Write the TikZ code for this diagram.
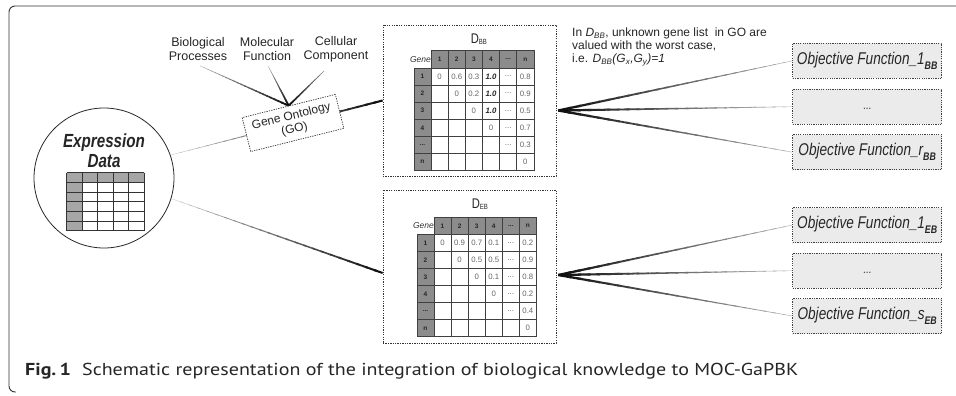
\documentclass[tikz,border=0pt]{standalone}
\usepackage{fontspec}
\usepackage{graphicx}
\setmainfont{Liberation Sans}
\newfontfamily\narrowfont{Liberation Sans}[FakeStretch=0.8]
\newfontfamily\capfont{PT Sans}
\usetikzlibrary{calc}
\pgfdeclarelayer{bg}
\pgfsetlayers{bg,main}

\newcommand\mdots{...}
\newcommand\bival[1]{{\bfseries\itshape\color{black!85}#1}}
\newcommand\objsub[1]{\raisebox{-5pt}{\fontsize{11}{11}\selectfont\bfseries #1}}

% tapered connector: from, to, start width, end width, start shade, end shade
\newcommand\taper[6]{%
  \foreach \ti in {0,...,23}{%
    \pgfmathsetmacro\tpa{\ti/24}%
    \pgfmathsetmacro\tpb{min(1,(\ti+1.3)/24)}%
    \pgfmathsetmacro\tpw{#3+(#4-#3)*(\ti+0.5)/24}%
    \pgfmathsetmacro\tpk{#5+(#6-#5)*(\ti+0.5)/24}%
    \draw[line width=\tpw pt,black!\tpk] ($(#1)!\tpa!(#2)$) -- ($(#1)!\tpb!(#2)$);
  }}

% distance matrix: prefix, x0, y0, cell size, rows of values
\newcommand\genematrix[5]{%
  \begin{scope}[shift={(#2,#3)}]
    \node[genelbl,anchor=east] (#1-gene) at (0,{0.5*#4}) {Gene};
    \foreach \hv [count=\c] in {1,2,3,4,\mdots,n}
      \node[hdr,minimum size=#4pt] (#1-h\c) at ({(\c-0.5)*#4},{0.5*#4}) {\hv};
    \foreach \rv [count=\r] in {1,2,3,4,\mdots,n}
      \node[hdr,minimum size=#4pt] (#1-r\r) at ({-0.5*#4},{(\r+0.5)*#4}) {\rv};
    \foreach \row [count=\r] in {#5} {
      \foreach \v [count=\c] in \row
        \node[cell,minimum size=#4pt] (#1-\r-\c) at ({(\c-0.5)*#4},{(\r+0.5)*#4}) {\v};
    }
  \end{scope}}

\begin{document}
\begin{tikzpicture}[x=1pt,y=-1pt,
  frameline/.style={draw=black!80,line width=0.9pt,rounded corners=6pt},
  dbox/.style={draw=black!80,line width=0.7pt,dash pattern=on 1.3pt off 1.1pt,inner sep=0pt},
  objbox/.style={draw=black!75,fill=black!8,line width=0.8pt,dash pattern=on 1.2pt off 1.1pt,
    minimum width=149pt,minimum height=35pt,inner sep=0pt,
    font=\narrowfont\fontsize{17}{17}\selectfont\itshape,text=black!85},
  lbl/.style={align=center,font=\fontsize{12.5}{14}\selectfont,text=black!85,inner sep=0pt},
  hdr/.style={draw=black!75,fill=black!45,line width=0.6pt,inner sep=0pt,
    font=\fontsize{6.5}{7}\selectfont\bfseries,text=black!85},
  cell/.style={draw=black!75,fill=white,line width=0.6pt,inner sep=0pt,
    font=\fontsize{7.8}{8}\selectfont,text=black!60},
  genelbl/.style={inner sep=0pt,font=\fontsize{8.5}{9}\selectfont\itshape,text=black!80},
  dtitle/.style={inner sep=0pt,font=\narrowfont\fontsize{14}{14}\selectfont,text=black!85},
]
\useasboundingbox (0,0) rectangle (956,396);

% outer frame
\draw[frameline] (16,392) -- (9,392) -- (9,6) -- (957,6);

% expression data
\node[circle,draw=black!85,line width=0.8pt,fill=white,minimum size=140pt,inner sep=0pt] (expr) at (104,178) {};
\node[align=center,inner sep=0pt,font=\narrowfont\fontsize{19}{20}\selectfont\bfseries\itshape,text=black!85] (exprt) at (104,151) {Expression\\Data};
\fill[black!35] (66.7,172.7) rectangle (144.3,182.4);
\fill[black!35] (66.7,172.7) rectangle (82.2,230.7);
\foreach \c in {0,...,5} \draw[black!80,line width=0.8pt] ({66.7+\c*15.52},172.7) -- ({66.7+\c*15.52},230.7);
\foreach \r in {0,...,6} \draw[black!80,line width=0.8pt] (66.7,{172.7+\r*9.67}) -- (144.3,{172.7+\r*9.67});

% gene ontology
\node[lbl] (bp) at (198,49) {Biological\\Processes};
\node[lbl] (mf) at (267,49) {Molecular\\Function};
\node[lbl] (cc) at (336,49) {Cellular\\Component};
\node[dbox,fill=white,rotate=14,minimum width=96pt,minimum height=35pt,align=center,
  font=\fontsize{12}{13.5}\selectfont,text=black!85] (go) at (293,123) {Gene Ontology\\(GO)};

% distance matrices
\node[dbox,minimum width=173pt,minimum height=151pt] (dbb) at (469.5,100.5) {};
\node[dtitle,anchor=base west] (dbbt) at (470.7,43.3) {D{\fontsize{7.5}{8}\selectfont\raisebox{-1pt}{BB}}};
\genematrix{bb}{431}{50.7}{17.15}{%
  {0,0.6,0.3,\bival{1.0},\mdots,0.8},
  {{},0,0.2,\bival{1.0},\mdots,0.9},
  {{},{},0,\bival{1.0},\mdots,0.5},
  {{},{},{},0,\mdots,0.7},
  {{},{},{},{},\mdots,0.3},
  {{},{},{},{},{},0}}

\node[dbox,minimum width=173pt,minimum height=153pt] (deb) at (469.5,266.5) {};
\node[dtitle,anchor=base west] (debt) at (471.7,208) {D{\fontsize{7.5}{8}\selectfont\raisebox{-1pt}{EB}}};
\genematrix{eb}{434}{217.3}{17.07}{%
  {0,0.9,0.7,0.1,\mdots,0.2},
  {{},0,0.5,0.5,\mdots,0.9},
  {{},{},0,0.1,\mdots,0.8},
  {{},{},{},0,\mdots,0.2},
  {{},{},{},{},\mdots,0.4},
  {{},{},{},{},{},0}}

\node[anchor=north west,align=left,inner sep=0pt,font=\fontsize{12}{13}\selectfont,text=black!85] (note) at (572,28)
  {In {\itshape D\textsubscript{BB}}, unknown gene list\ \ in GO are\\
   valued with the worst case,\\
   i.e. {\itshape D\textsubscript{BB}(G\textsubscript{x},G\textsubscript{y})=1}};

% objective functions
\node[objbox] (obb1) at (867.2,60.8) {Objective Function\_1\objsub{BB}};
\node[objbox] (obb2) at (867.2,106.7) {\raisebox{-6pt}{\upshape\fontsize{12}{12}\selectfont\mdots}};
\node[objbox] (obb3) at (867.2,152.2) {Objective Function\_r\objsub{BB}};
\node[objbox] (oeb1) at (867.2,225) {Objective Function\_1\objsub{EB}};
\node[objbox] (oeb2) at (867.2,270.7) {\raisebox{-6pt}{\upshape\fontsize{12}{12}\selectfont\mdots}};
\node[objbox] (oeb3) at (867.2,316) {Objective Function\_s\objsub{EB}};

\coordinate (bbfan) at ($(dbb.east)+(2,10)$);
\coordinate (ebfan) at ($(deb.east)+(2,8.5)$);
\coordinate (ebin) at ($(deb.west)+(0,6.5)$);

% connectors, drawn beneath the boxes
\begin{pgfonlayer}{bg}
  \fill[white] (0,0) rectangle (956,396);
  \taper{$(bp.south)+(2,5)$}{go.north}{0.3}{1.9}{30}{95}
  \taper{$(mf.south)+(1,5)$}{go.north}{0.3}{1.9}{30}{95}
  \taper{$(cc.south)+(-12,9)$}{go.north}{0.5}{1.9}{45}{95}
  \taper{expr.19}{dbb.west}{0.3}{2.1}{20}{95}
  \taper{expr.-17}{ebin}{0.3}{2.1}{20}{95}
  \taper{bbfan}{obb1.west}{2.4}{0.4}{95}{30}
  \taper{bbfan}{obb2.west}{2.4}{0.4}{95}{25}
  \taper{bbfan}{obb3.west}{2.4}{0.4}{95}{30}
  \taper{ebfan}{oeb1.west}{2.4}{0.4}{95}{30}
  \taper{ebfan}{oeb2.west}{2.4}{0.4}{95}{25}
  \taper{ebfan}{oeb3.west}{2.4}{0.4}{95}{30}
\end{pgfonlayer}

% caption
\node[anchor=base west,inner sep=0pt,text=black!85] (cap) at (25,375)
  {\resizebox{773pt}{12.3pt}{\capfont\fontsize{16}{16}\selectfont\textbf{Fig.\,1}\hspace{0.55em}Schematic representation of the integration of biological knowledge to MOC-GaPBK}};
\end{tikzpicture}
\end{document}
